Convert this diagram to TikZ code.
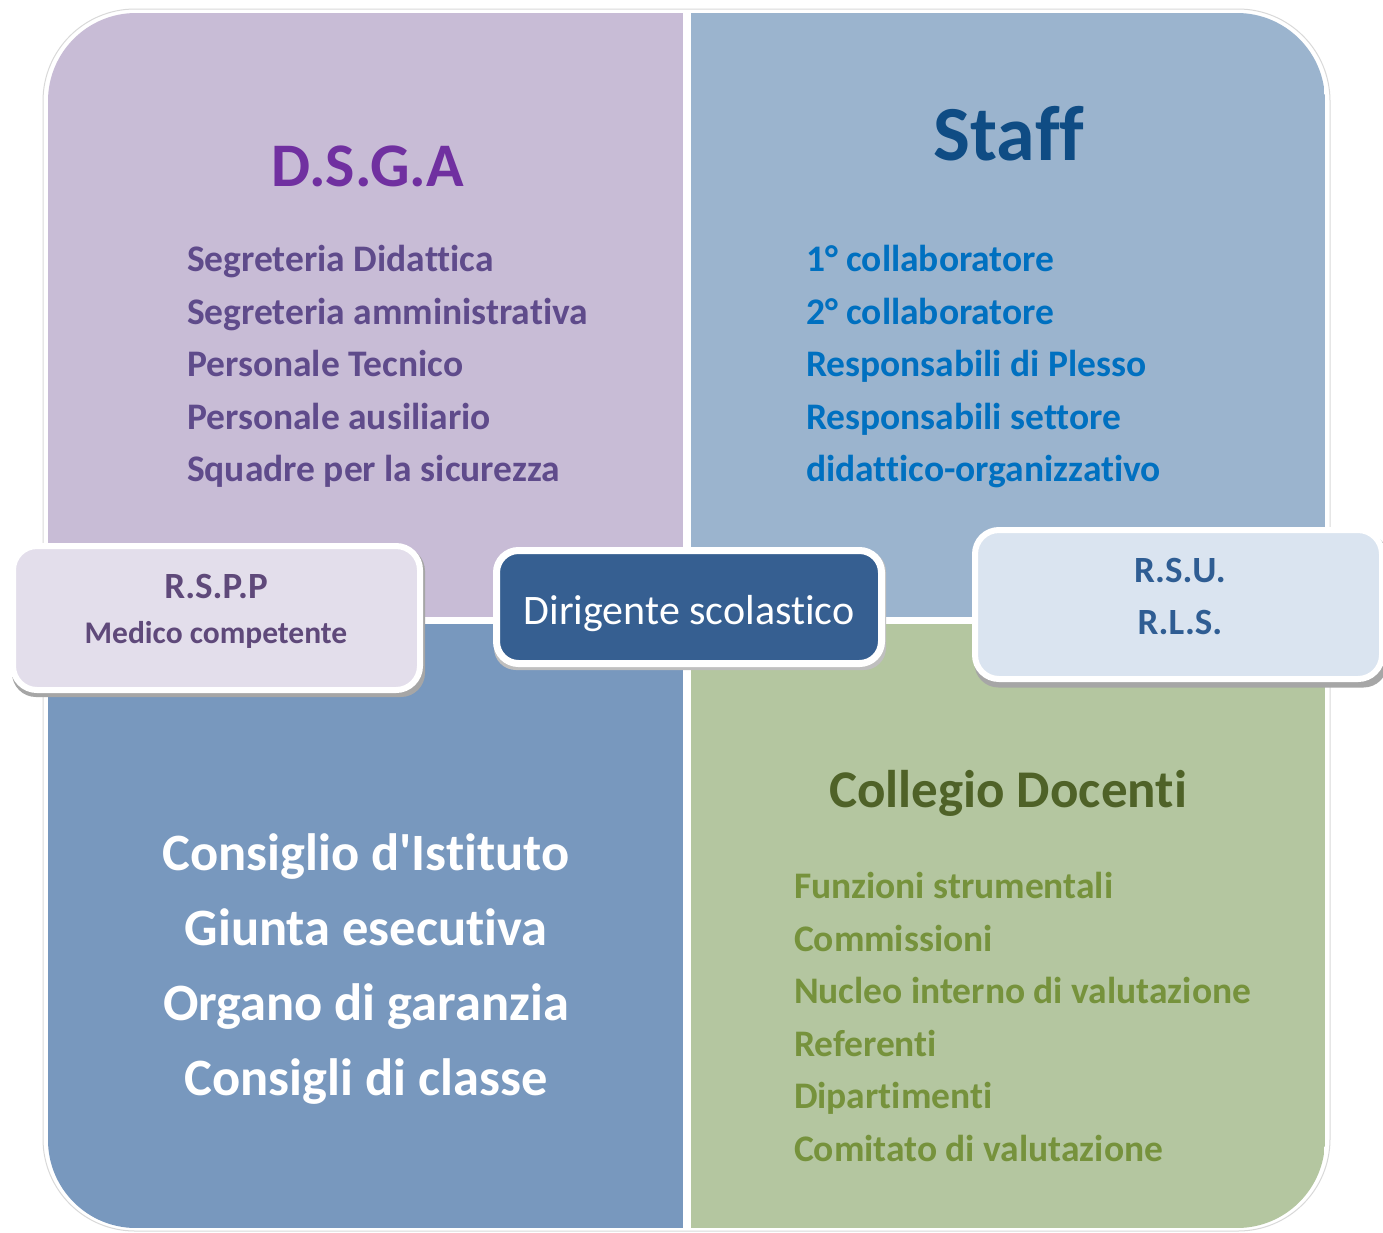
\documentclass[tikz,border=0pt]{standalone}
\usepackage{fontspec}
\setmainfont{Carlito}[Ligatures={NoCommon}]
\definecolor{qpurple}{HTML}{C8BCD6}
\definecolor{qstaff}{HTML}{9BB4CE}
\definecolor{qblue}{HTML}{7898BE}
\definecolor{qgreen}{HTML}{B4C6A0}
\definecolor{bxpurple}{HTML}{E3DEEB}
\definecolor{bxdark}{HTML}{365F91}
\definecolor{bxlight}{HTML}{DAE4F0}
\definecolor{tdsga}{HTML}{7030A0}
\definecolor{tdsgalist}{HTML}{5F4B8B}
\definecolor{trspp}{HTML}{5F497A}
\definecolor{tstaff}{HTML}{0F4C84}
\definecolor{tstafflist}{HTML}{0070C0}
\definecolor{trsu}{HTML}{2F5D93}
\definecolor{tcoll}{HTML}{4F6228}
\definecolor{tcolllist}{HTML}{76923C}
\begin{document}
\begin{tikzpicture}[x=1pt,y=-1pt,
  txt/.style={inner sep=0pt,outer sep=0pt,font=\bfseries},
  listitem/.style={txt,anchor=base west,font=\fontsize{37.5}{40}\selectfont\bfseries},
  bigwhite/.style={txt,anchor=base,text=white,font=\fontsize{52.5}{56}\selectfont\bfseries},
  sidebox/.style={draw=white,line width=6pt,rounded corners=24pt,minimum width=407pt,minimum height=144pt,inner sep=0pt},
  shadowbox/.style={fill=black!35,rounded corners=24pt,minimum width=413pt,minimum height=150pt,inner sep=0pt,draw=none}
]
\useasboundingbox (0,0) rectangle (1383,1232);
\fill[white] (0,0) rectangle (1383,1232);
% outer white rim with faint shadow
\draw[black!15,line width=1pt,fill=white,rounded corners=92pt] (43,9) rectangle (1330,1231);
\begin{scope}
\clip[rounded corners=88pt] (48,13) rectangle (1325,1228);
\fill[qpurple] (48,13) rectangle (683,617);
\fill[qstaff] (691,13) rectangle (1325,617);
\fill[qblue] (48,624) rectangle (683,1228);
\fill[qgreen] (691,624) rectangle (1325,1228);
\end{scope}

% DSGA quadrant
\node[txt,anchor=base,text=tdsga,font=\fontsize{62}{70}\selectfont\bfseries] (dsga) at (368,186) {D.S.G.A};
\node[listitem,text=tdsgalist] (d1) at (187,271) {Segreteria Didattica};
\node[listitem,text=tdsgalist] (d2) at (187,324) {Segreteria amministrativa};
\node[listitem,text=tdsgalist] (d3) at (187,376) {Personale Tecnico};
\node[listitem,text=tdsgalist] (d4) at (187,429) {Personale ausiliario};
\node[listitem,text=tdsgalist] (d5) at (187,481) {Squadre per la sicurezza};

% Staff quadrant
\node[txt,anchor=base,text=tstaff,font=\fontsize{78}{84}\selectfont\bfseries] (staff) at (1009,160) {Staff};
\node[listitem,text=tstafflist] (s1) at (806,271) {1° collaboratore};
\node[listitem,text=tstafflist] (s2) at (806,324) {2° collaboratore};
\node[listitem,text=tstafflist] (s3) at (806,376) {Responsabili di Plesso};
\node[listitem,text=tstafflist] (s4) at (806,429) {Responsabili settore};
\node[listitem,text=tstafflist] (s5) at (806,481) {didattico-organizzativo};

% Consiglio quadrant
\node[bigwhite] (c1) at (366,870) {Consiglio d\textquotesingle Istituto};
\node[bigwhite] (c2) at (366,945) {Giunta esecutiva};
\node[bigwhite] (c3) at (366,1020) {Organo di garanzia};
\node[bigwhite] (c4) at (366,1095) {Consigli di classe};

% Collegio quadrant
\node[txt,anchor=base,text=tcoll,font=\fontsize{53}{58}\selectfont\bfseries] (coll) at (1008,807) {Collegio Docenti};
\node[listitem,text=tcolllist] (g1) at (794,898) {Funzioni strumentali};
\node[listitem,text=tcolllist] (g2) at (794,951) {Commissioni};
\node[listitem,text=tcolllist] (g3) at (794,1003) {Nucleo interno di valutazione};
\node[listitem,text=tcolllist] (g4) at (794,1056) {Referenti};
\node[listitem,text=tcolllist] (g5) at (794,1108) {Dipartimenti};
\node[listitem,text=tcolllist] (g6) at (794,1161) {Comitato di valutazione};

% RSPP box
\node[shadowbox] (rsppsh) at (218.5,622) {};
\node[sidebox,fill=bxpurple] (rspp) at (216.5,618) {};
\node[txt,anchor=base,text=trspp,font=\fontsize{37}{40}\selectfont\bfseries] (rspp1) at (216,598) {R.S.P.P};
\node[txt,anchor=base,text=trspp,font=\fontsize{31.5}{34}\selectfont\bfseries] (rspp2) at (216,643) {Medico competente};

% RSU box
\node[shadowbox,minimum height=155pt] (rsush) at (1181,610) {};
\node[sidebox,fill=bxlight,minimum height=149pt] (rsu) at (1178.5,604.5) {};
\node[txt,anchor=base,text=trsu,font=\fontsize{37}{40}\selectfont\bfseries] (rsu1) at (1180,582) {R.S.U.};
\node[txt,anchor=base,text=trsu,font=\fontsize{37}{40}\selectfont\bfseries] (rsu2) at (1180,634) {R.L.S.};

% Dirigente box
\node[fill=black!25,rounded corners=22pt,minimum width=392pt,minimum height=120pt,inner sep=0pt] (dirsh) at (690,610) {};
\node[draw=white,line width=7pt,fill=bxdark,rounded corners=22pt,minimum width=385pt,minimum height=113pt,inner sep=0pt] (dir) at (689,607) {};
\node[inner sep=0pt,anchor=base,text=white,font=\fontsize{42}{45}\selectfont] (dirt) at (689,624) {Dirigente scolastico};
\end{tikzpicture}
\end{document}
